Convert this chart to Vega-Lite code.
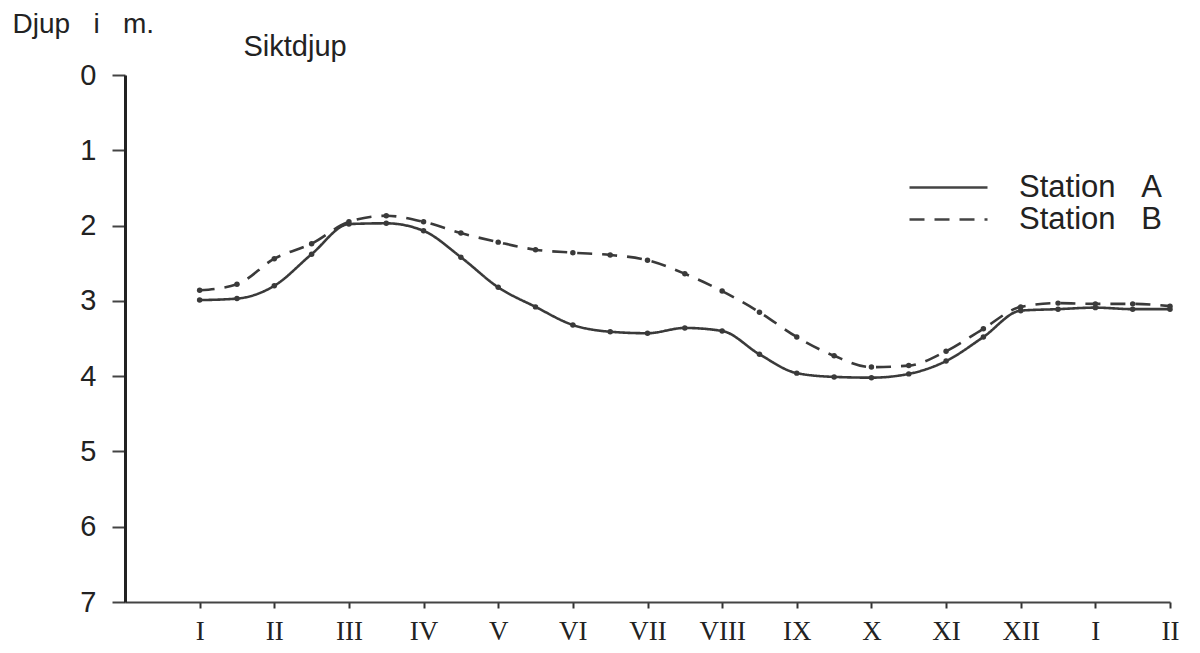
{
  "$schema": "https://vega.github.io/schema/vega-lite/v6.json",
  "width": 1045,
  "height": 527,
  "autosize": {"type": "none"},
  "padding": {"left": 125, "top": 75, "right": 30, "bottom": 51},
  "background": "white",
  "config": {
    "view": {"stroke": null},
    "font": "Liberation Sans"
  },
  "data": {
    "values": [
      {"month": 1.0, "depth": 2.99, "station": "Station\u00a0\u00a0\u00a0A"},
      {"month": 1.5, "depth": 2.97, "station": "Station\u00a0\u00a0\u00a0A"},
      {"month": 2.0, "depth": 2.80, "station": "Station\u00a0\u00a0\u00a0A"},
      {"month": 2.5, "depth": 2.38, "station": "Station\u00a0\u00a0\u00a0A"},
      {"month": 3.0, "depth": 1.98, "station": "Station\u00a0\u00a0\u00a0A"},
      {"month": 3.5, "depth": 1.97, "station": "Station\u00a0\u00a0\u00a0A"},
      {"month": 4.0, "depth": 2.07, "station": "Station\u00a0\u00a0\u00a0A"},
      {"month": 4.5, "depth": 2.42, "station": "Station\u00a0\u00a0\u00a0A"},
      {"month": 5.0, "depth": 2.82, "station": "Station\u00a0\u00a0\u00a0A"},
      {"month": 5.5, "depth": 3.08, "station": "Station\u00a0\u00a0\u00a0A"},
      {"month": 6.0, "depth": 3.32, "station": "Station\u00a0\u00a0\u00a0A"},
      {"month": 6.5, "depth": 3.41, "station": "Station\u00a0\u00a0\u00a0A"},
      {"month": 7.0, "depth": 3.43, "station": "Station\u00a0\u00a0\u00a0A"},
      {"month": 7.5, "depth": 3.36, "station": "Station\u00a0\u00a0\u00a0A"},
      {"month": 8.0, "depth": 3.40, "station": "Station\u00a0\u00a0\u00a0A"},
      {"month": 8.5, "depth": 3.71, "station": "Station\u00a0\u00a0\u00a0A"},
      {"month": 9.0, "depth": 3.96, "station": "Station\u00a0\u00a0\u00a0A"},
      {"month": 9.5, "depth": 4.01, "station": "Station\u00a0\u00a0\u00a0A"},
      {"month": 10.0, "depth": 4.02, "station": "Station\u00a0\u00a0\u00a0A"},
      {"month": 10.5, "depth": 3.97, "station": "Station\u00a0\u00a0\u00a0A"},
      {"month": 11.0, "depth": 3.80, "station": "Station\u00a0\u00a0\u00a0A"},
      {"month": 11.5, "depth": 3.48, "station": "Station\u00a0\u00a0\u00a0A"},
      {"month": 12.0, "depth": 3.13, "station": "Station\u00a0\u00a0\u00a0A"},
      {"month": 12.5, "depth": 3.11, "station": "Station\u00a0\u00a0\u00a0A"},
      {"month": 13.0, "depth": 3.09, "station": "Station\u00a0\u00a0\u00a0A"},
      {"month": 13.5, "depth": 3.11, "station": "Station\u00a0\u00a0\u00a0A"},
      {"month": 14.0, "depth": 3.11, "station": "Station\u00a0\u00a0\u00a0A"},
      {"month": 1.0, "depth": 2.86, "station": "Station\u00a0\u00a0\u00a0B"},
      {"month": 1.5, "depth": 2.78, "station": "Station\u00a0\u00a0\u00a0B"},
      {"month": 2.0, "depth": 2.44, "station": "Station\u00a0\u00a0\u00a0B"},
      {"month": 2.5, "depth": 2.24, "station": "Station\u00a0\u00a0\u00a0B"},
      {"month": 3.0, "depth": 1.95, "station": "Station\u00a0\u00a0\u00a0B"},
      {"month": 3.5, "depth": 1.87, "station": "Station\u00a0\u00a0\u00a0B"},
      {"month": 4.0, "depth": 1.95, "station": "Station\u00a0\u00a0\u00a0B"},
      {"month": 4.5, "depth": 2.10, "station": "Station\u00a0\u00a0\u00a0B"},
      {"month": 5.0, "depth": 2.22, "station": "Station\u00a0\u00a0\u00a0B"},
      {"month": 5.5, "depth": 2.32, "station": "Station\u00a0\u00a0\u00a0B"},
      {"month": 6.0, "depth": 2.36, "station": "Station\u00a0\u00a0\u00a0B"},
      {"month": 6.5, "depth": 2.39, "station": "Station\u00a0\u00a0\u00a0B"},
      {"month": 7.0, "depth": 2.46, "station": "Station\u00a0\u00a0\u00a0B"},
      {"month": 7.5, "depth": 2.64, "station": "Station\u00a0\u00a0\u00a0B"},
      {"month": 8.0, "depth": 2.87, "station": "Station\u00a0\u00a0\u00a0B"},
      {"month": 8.5, "depth": 3.15, "station": "Station\u00a0\u00a0\u00a0B"},
      {"month": 9.0, "depth": 3.48, "station": "Station\u00a0\u00a0\u00a0B"},
      {"month": 9.5, "depth": 3.73, "station": "Station\u00a0\u00a0\u00a0B"},
      {"month": 10.0, "depth": 3.88, "station": "Station\u00a0\u00a0\u00a0B"},
      {"month": 10.5, "depth": 3.86, "station": "Station\u00a0\u00a0\u00a0B"},
      {"month": 11.0, "depth": 3.67, "station": "Station\u00a0\u00a0\u00a0B"},
      {"month": 11.5, "depth": 3.37, "station": "Station\u00a0\u00a0\u00a0B"},
      {"month": 12.0, "depth": 3.08, "station": "Station\u00a0\u00a0\u00a0B"},
      {"month": 12.5, "depth": 3.03, "station": "Station\u00a0\u00a0\u00a0B"},
      {"month": 13.0, "depth": 3.04, "station": "Station\u00a0\u00a0\u00a0B"},
      {"month": 13.5, "depth": 3.04, "station": "Station\u00a0\u00a0\u00a0B"},
      {"month": 14.0, "depth": 3.07, "station": "Station\u00a0\u00a0\u00a0B"}
    ]
  },
  "encoding": {
    "x": {
      "field": "month",
      "type": "quantitative",
      "scale": {"domain": [0, 14], "nice": false, "zero": false},
      "axis": {
        "title": "Siktdjup",
        "titleX": 118,
        "titleY": -547,
        "titleAlign": "left",
        "titleBaseline": "alphabetic",
        "titleFont": "Liberation Sans",
        "titleFontSize": 29,
        "titleFontWeight": "normal",
        "titleColor": "#222",
        "grid": false,
        "values": [1, 2, 3, 4, 5, 6, 7, 8, 9, 10, 11, 12, 13, 14],
        "labelExpr": "['','I','II','III','IV','V','VI','VII','VIII','IX','X','XI','XII','I','II'][datum.value]",
        "labelFont": "Liberation Serif",
        "labelFontSize": 27,
        "labelColor": "#222",
        "labelPadding": 10,
        "tickSize": 6,
        "tickWidth": 2,
        "tickColor": "#333",
        "domainColor": "#444",
        "domainWidth": 2,
        "labelFlush": false,
        "labelOverlap": false
      }
    },
    "y": {
      "field": "depth",
      "type": "quantitative",
      "scale": {"domain": [0, 7], "reverse": true, "nice": false},
      "axis": {
        "title": "Djup\u00a0\u00a0\u00a0i\u00a0\u00a0\u00a0m.",
        "titleAngle": 0,
        "titleX": -113,
        "titleY": -43,
        "titleAlign": "left",
        "titleBaseline": "alphabetic",
        "titleFont": "Liberation Sans",
        "titleFontSize": 28,
        "titleFontWeight": "normal",
        "titleColor": "#222",
        "grid": false,
        "values": [0, 1, 2, 3, 4, 5, 6, 7],
        "format": "d",
        "labelFont": "Liberation Sans",
        "labelFontSize": 29,
        "labelColor": "#222",
        "labelPadding": 16,
        "tickSize": 13,
        "tickWidth": 2,
        "tickColor": "#444",
        "domainColor": "#222",
        "domainWidth": 3,
        "labelFlush": false,
        "labelOverlap": false
      }
    }
  },
  "layer": [
    {
      "mark": {"type": "line", "interpolate": "monotone", "strokeWidth": 2.6, "color": "#3a3a3a"},
      "encoding": {
        "strokeDash": {
          "field": "station",
          "type": "nominal",
          "scale": {"domain": ["Station\u00a0\u00a0\u00a0A", "Station\u00a0\u00a0\u00a0B"], "range": [[1, 0], [15, 10]]},
          "legend": {
            "title": null,
            "orient": "none",
            "legendX": 808,
            "legendY": 97,
            "padding": 0,
            "symbolType": "M-3,0H3",
            "symbolSize": 676,
            "symbolStrokeWidth": 2.5,
            "symbolStrokeColor": "#444",
            "labelFont": "Liberation Sans",
            "labelFontSize": 31,
            "labelColor": "#222",
            "labelOffset": 55,
            "rowPadding": 0
          }
        }
      }
    },
    {
      "mark": {"type": "point", "filled": true, "size": 30, "color": "#3a3a3a", "opacity": 1},
      "encoding": {}
    }
  ]
}
